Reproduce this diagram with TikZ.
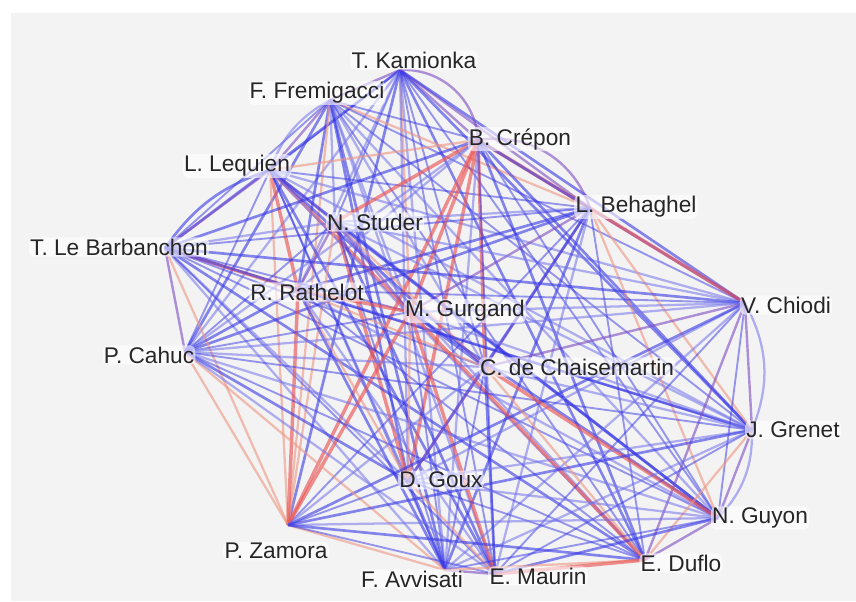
\documentclass[tikz,border=0pt]{standalone}
\usepackage{fontspec}
\setmainfont{Liberation Sans}
\definecolor{bgc}{RGB}{243,243,243}
\definecolor{cb}{RGB}{55,55,230}
\definecolor{cbl}{RGB}{115,115,235}
\definecolor{cr}{RGB}{235,85,85}
\definecolor{crl}{RGB}{238,150,130}
\definecolor{cp}{RGB}{125,75,195}
\def\setedge#1#2#3{\expandafter\def\csname ec-#1-#2\endcsname{#3}}
% red edges
\setedge{8}{16}{er}\setedge{9}{16}{er}\setedge{4}{16}{er}\setedge{4}{5}{er}
\setedge{4}{9}{er}\setedge{5}{10}{er}\setedge{9}{19}{er}\setedge{18}{19}{er}
\setedge{9}{18}{er}\setedge{12}{15}{er}\setedge{8}{9}{er}\setedge{4}{14}{er}
\setedge{4}{6}{er}\setedge{7}{8}{er}\setedge{3}{8}{er}\setedge{4}{12}{er}
\setedge{6}{14}{er}\setedge{3}{9}{er}
% light red edges
\setedge{11}{16}{erl}\setedge{7}{16}{erl}\setedge{16}{17}{erl}\setedge{3}{16}{erl}
\setedge{14}{18}{erl}\setedge{5}{13}{erl}\setedge{12}{19}{erl}\setedge{8}{14}{erl}
\setedge{2}{5}{erl}\setedge{3}{4}{erl}\setedge{1}{9}{erl}\setedge{17}{19}{erl}
\setedge{9}{14}{erl}\setedge{6}{16}{erl}\setedge{11}{17}{erl}\setedge{2}{16}{erl}
\setedge{13}{19}{erl}\setedge{5}{15}{erl}\setedge{8}{12}{erl}\setedge{6}{12}{erl}
% purple edges
\setedge{1}{4}{ep}\setedge{1}{2}{ep}\setedge{3}{6}{ep}\setedge{5}{9}{ep}
\setedge{5}{12}{ep}\setedge{10}{13}{ep}\setedge{13}{15}{ep}\setedge{15}{19}{ep}
\setedge{17}{18}{ep}\setedge{2}{3}{ep}\setedge{3}{7}{ep}\setedge{7}{11}{ep}
\setedge{6}{9}{ep}\setedge{12}{14}{ep}\setedge{1}{5}{ep}\setedge{10}{19}{ep}
\setedge{6}{8}{ep}\setedge{10}{12}{ep}
\begin{document}
\begin{tikzpicture}[x=0.75pt,y=-0.75pt,
  eb0/.style={draw=cb, line width=2.0pt, opacity=0.6},
  eb1/.style={draw=cb, line width=1.4pt, opacity=0.5},
  eb2/.style={draw=cbl, line width=1.7pt, opacity=0.55},
  er/.style={draw=cr, line width=2.6pt, opacity=0.65},
  erl/.style={draw=crl, line width=1.7pt, opacity=0.6},
  ep/.style={draw=cp, line width=1.8pt, opacity=0.6},
  lbl/.style={font=\fontsize{17}{19}\selectfont, text=black!85, fill=white,
    fill opacity=0.6, text opacity=1, inner sep=1pt, rounded corners=4pt}]
\fill[white] (0,0) rectangle (856,601);
\fill[bgc] (11,13) rectangle (856,601);
\useasboundingbox (0,0) rectangle (856,601);
% node points
\coordinate[alias=n1] (kam) at (400,70);
\coordinate[alias=n2] (frem) at (330,100);
\coordinate[alias=n3] (leq) at (270,170);
\coordinate[alias=n4] (crep) at (478,140);
\coordinate[alias=n5] (beh) at (590,208);
\coordinate[alias=n6] (stud) at (335,222);
\coordinate[alias=n7] (leb) at (165,248);
\coordinate[alias=n8] (rath) at (298,290);
\coordinate[alias=n9] (gurg) at (410,312);
\coordinate[alias=n10] (chio) at (745,303);
\coordinate[alias=n11] (cahuc) at (185,352);
\coordinate[alias=n12] (chais) at (485,367);
\coordinate[alias=n13] (gren) at (752,430);
\coordinate[alias=n14] (goux) at (408,481);
\coordinate[alias=n15] (guyon) at (718,518);
\coordinate[alias=n16] (zam) at (288,525);
\coordinate[alias=n17] (avv) at (445,570);
\coordinate[alias=n18] (maur) at (495,574);
\coordinate[alias=n19] (duf) at (645,560);
% edges
\foreach \i in {1,...,18}{
  \pgfmathtruncatemacro\jstart{\i+1}
  \foreach \j in {\jstart,...,19}{
    \ifcsname ec-\i-\j\endcsname
      \edef\st{\csname ec-\i-\j\endcsname}%
    \else
      \pgfmathtruncatemacro\k{mod(\i*7+\j*11,3)}%
      \edef\st{eb\k}%
    \fi
    \edef\tmp{\noexpand\draw[\st] (n\i) -- (n\j);}\tmp
  }
}
% curved multi-edges
\draw[ep] (kam) to[bend left=45] (crep);
\draw[ep] (crep) to[bend left=40] (beh);
\draw[eb2] (leq) to[bend left=20] (frem);
\draw[eb0] (leb) to[bend left=18] (leq);
\draw[eb2] (chio) to[bend left=25] (gren);
\draw[eb2] (gren) to[bend left=22] (guyon);
% labels
\node[lbl] (kamL) at (414,60) {T. Kamionka};
\node[lbl] (fremL) at (317,93) {F. Fremigacci};
\node[lbl] (leqL) at (237,166) {L. Lequien};
\node[lbl] (crepL) at (520,139) {B. Crépon};
\node[lbl] (behL) at (636,207) {L. Behaghel};
\node[lbl] (studL) at (375,222) {N. Studer};
\node[lbl] (lebL) at (119,247) {T. Le Barbanchon};
\node[lbl] (rathL) at (307,292) {R. Rathelot};
\node[lbl] (gurgL) at (465,311) {M. Gurgand};
\node[lbl] (chioL) at (786,305) {V. Chiodi};
\node[lbl] (cahucL) at (149,355) {P. Cahuc};
\node[lbl] (chaisL) at (577,367) {C. de Chaisemartin};
\node[lbl] (grenL) at (793,430) {J. Grenet};
\node[lbl] (gouxL) at (441,480) {D. Goux};
\node[lbl] (guyonL) at (760,518) {N. Guyon};
\node[lbl] (zamL) at (276,551) {P. Zamora};
\node[lbl] (avvL) at (412,579) {F. Avvisati};
\node[lbl] (maurL) at (538,576) {E. Maurin};
\node[lbl] (dufL) at (681,563) {E. Duflo};
\end{tikzpicture}
\end{document}
